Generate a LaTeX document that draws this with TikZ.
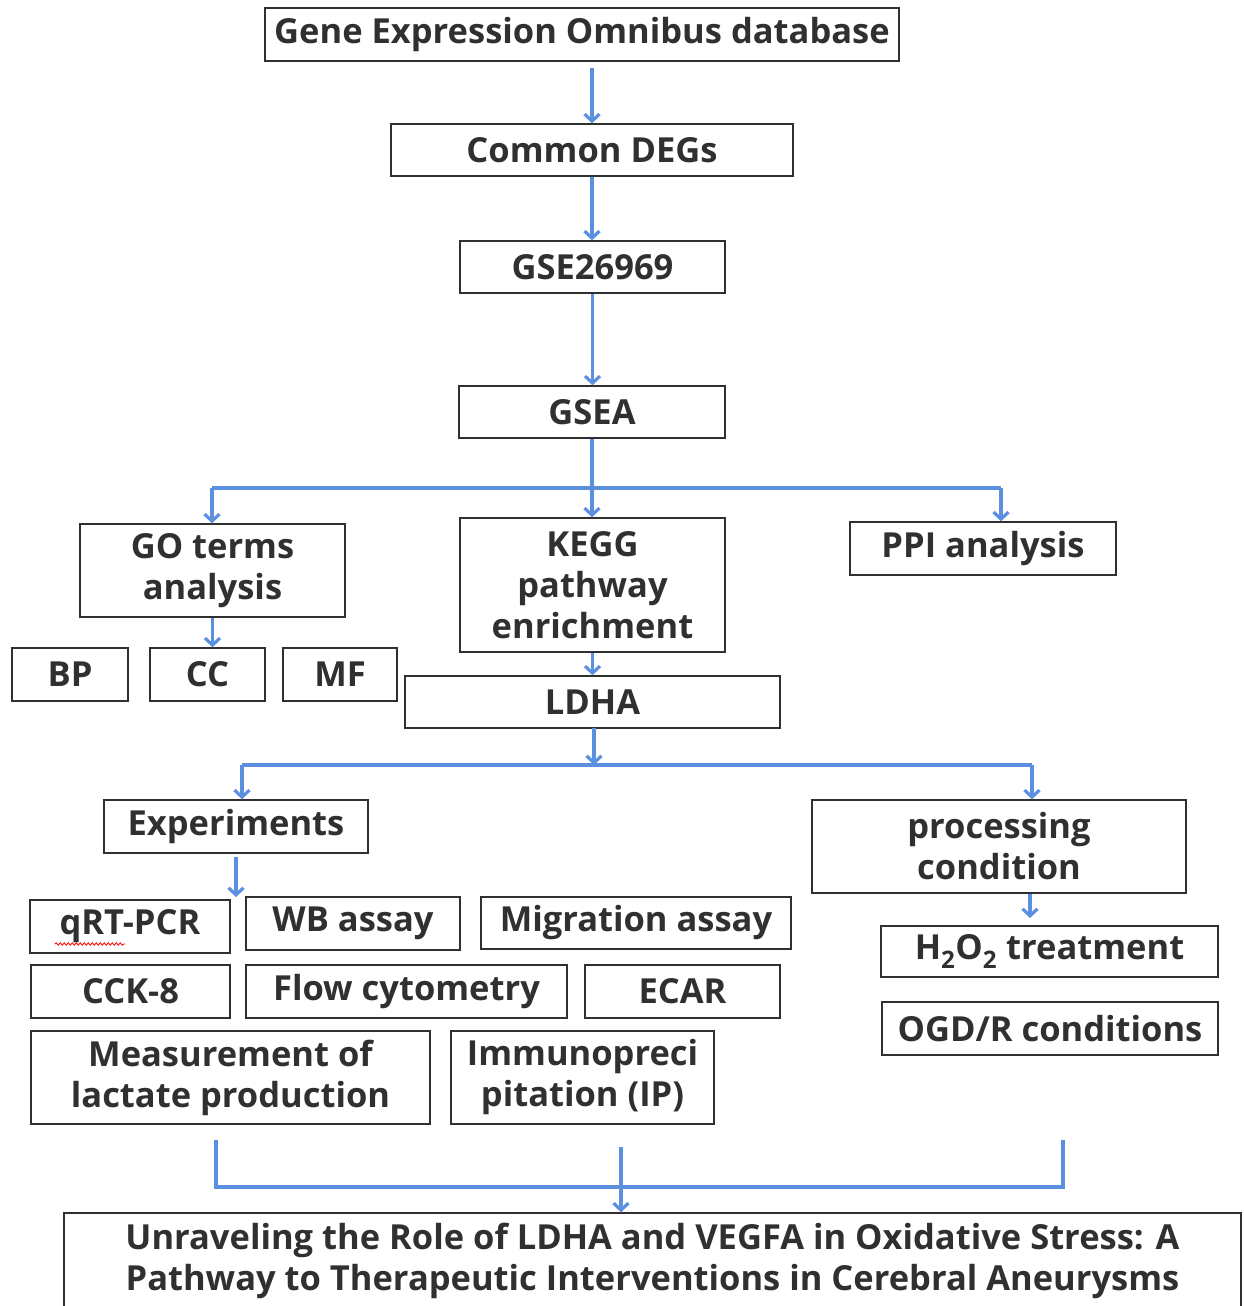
\documentclass[tikz,border=0pt]{standalone}
\usepackage{fontspec}
\setmainfont{Open Sans}
\usetikzlibrary{arrows.meta,decorations.pathmorphing}
\definecolor{fl}{HTML}{5B8FE0}
\definecolor{tx}{HTML}{303030}
\begin{document}
\begin{tikzpicture}[x=1pt,y=-1pt,
  box/.style={draw=tx, line width=1.5pt, text=tx, font=\fontsize{34.5}{41}\selectfont\bfseries, align=center, inner sep=0pt},
  wire/.style={draw=fl, line width=3.2pt},
  flow/.style={wire, -{Straight Barb[length=7pt,width=15pt]}}]
\useasboundingbox (0,0) rectangle (1244,1306);
% main column
\node[box, minimum width=634pt, minimum height=53pt] (geo) at (582,34.5) {Gene Expression Omnibus database};
\node[box, minimum width=402pt, minimum height=52pt] (deg) at (592,150) {Common DEGs};
\node[box, minimum width=265pt, minimum height=52pt] (gse) at (592.5,267) {GSE26969};
\node[box, minimum width=266pt, minimum height=52pt] (gsea) at (592,412) {GSEA};
\node[box, minimum width=265pt, minimum height=93pt] (go) at (212.5,570.5) {GO terms\\analysis};
\node[box, minimum width=265pt, minimum height=134pt] (kegg) at (592.5,585) {KEGG\\pathway\\enrichment};
\node[box, minimum width=266pt, minimum height=53pt] (ppi) at (983,548.5) {PPI analysis};
\node[box, minimum width=116pt, minimum height=53pt] (bp) at (70,674.5) {BP};
\node[box, minimum width=115pt, minimum height=53pt] (cc) at (207.5,674.5) {CC};
\node[box, minimum width=114pt, minimum height=53pt] (mf) at (340,674.5) {MF};
\node[box, minimum width=375pt, minimum height=52pt] (ldha) at (592.5,702) {LDHA};
\node[box, minimum width=264pt, minimum height=53pt] (exp) at (236,826.5) {Experiments};
\node[box, minimum width=374pt, minimum height=93pt] (proc) at (999,846.5) {processing\\condition};
% experiments
\node[box, minimum width=200pt, minimum height=53pt] (qrt) at (130,926.5) {qRT-PCR};
\node[box, minimum width=214pt, minimum height=53pt] (wb) at (353,923.5) {WB assay};
\node[box, minimum width=310pt, minimum height=52pt] (mig) at (636,923) {Migration assay};
\node[box, minimum width=199pt, minimum height=53pt] (cck) at (130.5,991.5) {CCK-8};
\node[box, minimum width=321pt, minimum height=53pt] (flow) at (406.5,991.5) {Flow cytometry};
\node[box, minimum width=195pt, minimum height=53pt] (ecar) at (682.5,991.5) {ECAR};
\node[box, minimum width=399pt, minimum height=93pt] (lac) at (230.5,1077.5) {Measurement of\\lactate production};
\node[box, minimum width=263pt, minimum height=93pt] (ip) at (582.5,1077.5) {Immunopreci\\pitation (IP)};
% conditions
\node[box, minimum width=337pt, minimum height=51pt] (h2o2) at (1049.5,951.5) {H\textsubscript{2}O\textsubscript{2} treatment};
\node[box, minimum width=336pt, minimum height=53pt] (ogd) at (1050,1028.5) {OGD/R conditions};
% final
\node[box, minimum width=1177pt, minimum height=96pt] (final) at (652.5,1261) {Unraveling the Role of LDHA and VEGFA in Oxidative Stress: A\\Pathway to Therapeutic Interventions in Cerebral Aneurysms};
% spell-check squiggle
\draw[red, line width=0.8pt, decorate, decoration={snake, amplitude=1.2pt, segment length=4pt}] (55,944) -- (125,944);
% connectors
\draw[flow] (deg.north |- 0,68) -- (deg.north);
\draw[flow] (deg.south) -- (deg.south |- gse.north);
\draw[flow] (gse.south) -- (gse.south |- gsea.north);
\coordinate (jl) at (212,488);
\coordinate (jr) at (1001,488);
\draw[wire] (jl) -- (jr);
\draw[flow] (gsea.south) -- (gsea.south |- kegg.north);
\draw[flow] (jl) -- (jl |- go.north);
\draw[flow] (jr) -- (jr |- ppi.north);
\draw[flow] (go.south) -- (go.south |- cc.north);
\draw[flow] (kegg.south) -- (kegg.south |- ldha.north);
\coordinate (kl) at (242,765);
\coordinate (kr) at (1032,765);
\coordinate (km) at (594,765);
\draw[wire] (kl) -- (kr);
\draw[flow] (594,728) -- (km);
\draw[flow] (kl) -- (kl |- exp.north);
\draw[flow] (kr) -- (kr |- proc.north);
\coordinate (ea) at (236,897);
\draw[flow] (ea |- exp.south) ++(0,3) -- (ea);
\coordinate (pa) at (1030,918);
\draw[flow] (pa |- proc.south) -- (pa);
\coordinate (bl) at (216,1140);
\coordinate (br) at (1063,1140);
\coordinate (bm) at (621,1147);
\draw[wire] (bl) -- (216,1187) -- (1063,1187) -- (br);
\draw[flow] (bm) -- (bm |- final.north);
\end{tikzpicture}
\end{document}
